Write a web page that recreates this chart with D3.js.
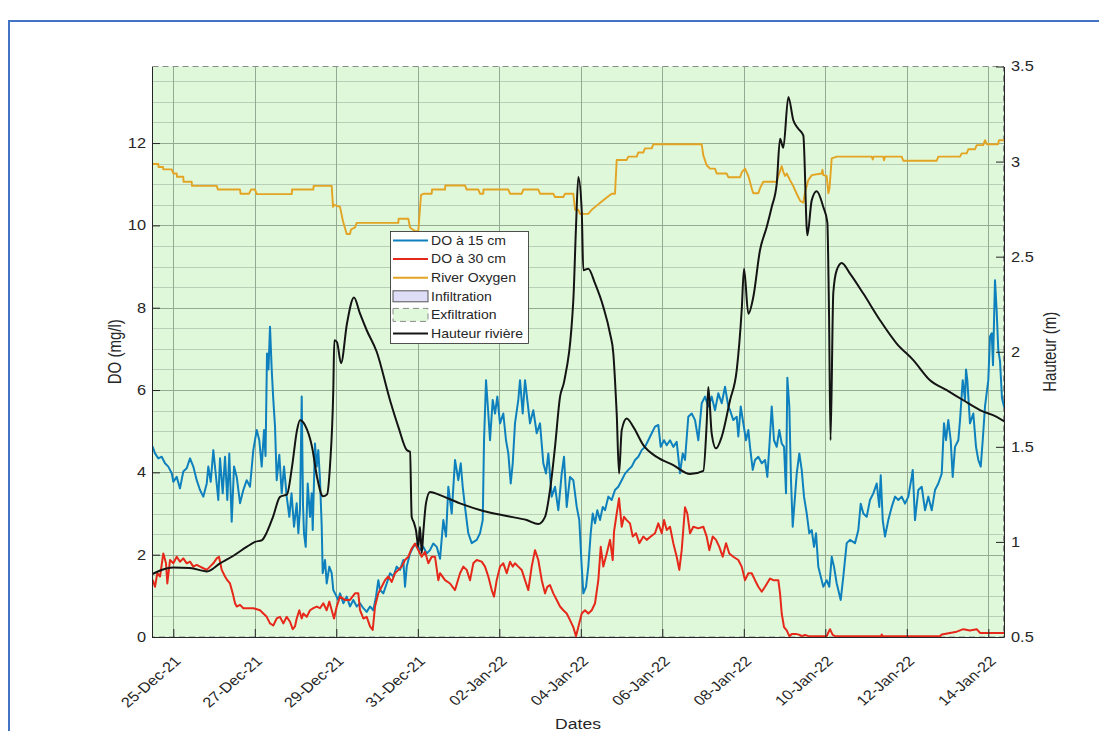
<!DOCTYPE html>
<html>
<head>
<meta charset="utf-8">
<script src="https://cdn.jsdelivr.net/npm/d3@7"></script>
<style>
  body { margin: 0; background: #ffffff; }
  svg text { font-family: "Liberation Sans", Arial, Helvetica, sans-serif; fill: #262626; }
</style>
</head>
<body>
<svg id="chart" width="1099" height="731"></svg>
<script>
// Day offsets below are counted from 24-Dec-2021 00:00 (UTC).
const baseDate = Date.UTC(2021, 11, 24);
const timeRange = [0.477, 21.385];
const tickDates = ["2021-12-25", "2021-12-27", "2021-12-29", "2021-12-31", "2022-01-02",
                   "2022-01-04", "2022-01-06", "2022-01-08", "2022-01-10", "2022-01-12", "2022-01-14"];
const doRange = [0, 13.86];
const doTicks = [0, 2, 4, 6, 8, 10, 12];
const hauteurRange = [0.5, 3.5];
const hauteurTicks = [0.5, 1, 1.5, 2, 2.5, 3, 3.5];
const legendLabels = ["DO à 15 cm", "DO à 30 cm", "River Oxygen", "Infiltration", "Exfiltration", "Hauteur rivière"];

// Dissolved oxygen at 15 cm depth [day, mg/l]
const do15 = [[0.494,4.62],[0.551,4.46],[0.632,4.34],[0.715,4.38],[0.796,4.22],[0.877,4.14],[0.961,3.98],[1.000,3.77],[1.083,3.89],[1.164,3.61],[1.245,4.02],[1.329,4.10],[1.410,4.34],[1.491,4.14],[1.574,3.81],[1.655,3.57],[1.736,3.41],[1.820,3.73],[1.859,4.14],[1.918,3.77],[1.982,4.54],[2.048,3.89],[2.104,3.33],[2.146,4.34],[2.212,3.49],[2.269,4.38],[2.325,3.33],[2.374,4.46],[2.433,2.80],[2.490,4.14],[2.556,3.89],[2.637,3.25],[2.718,3.57],[2.801,3.81],[2.882,3.65],[2.963,4.54],[3.047,5.03],[3.110,4.78],[3.169,4.14],[3.226,5.03],[3.263,4.40],[3.299,6.89],[3.336,6.50],[3.373,7.54],[3.415,6.49],[3.454,5.76],[3.496,5.11],[3.537,3.81],[3.601,4.43],[3.660,3.49],[3.717,4.14],[3.783,3.41],[3.847,2.92],[3.901,3.49],[3.962,2.68],[4.028,3.25],[4.068,2.52],[4.109,3.10],[4.151,5.84],[4.183,3.20],[4.207,2.52],[4.249,2.19],[4.298,3.73],[4.355,2.92],[4.396,3.49],[4.421,2.60],[4.477,4.70],[4.519,4.14],[4.558,4.54],[4.600,3.81],[4.642,2.68],[4.666,1.55],[4.723,1.87],[4.764,1.30],[4.828,1.71],[4.887,1.55],[4.926,1.14],[4.968,1.06],[5.049,0.90],[5.091,1.06],[5.172,0.82],[5.255,0.98],[5.336,0.74],[5.417,0.90],[5.501,0.74],[5.582,0.82],[5.663,0.70],[5.746,0.61],[5.827,0.74],[5.908,0.65],[5.974,0.98],[6.031,1.38],[6.072,1.14],[6.153,1.06],[6.237,1.30],[6.318,1.55],[6.399,1.47],[6.482,1.71],[6.563,1.63],[6.644,1.87],[6.686,1.22],[6.728,1.71],[6.809,2.03],[6.890,2.19],[6.973,2.27],[7.054,2.11],[7.135,2.19],[7.218,2.03],[7.299,2.11],[7.380,2.27],[7.464,2.19],[7.545,1.90],[7.626,2.84],[7.692,2.44],[7.749,3.65],[7.832,3.00],[7.913,4.30],[7.994,3.81],[8.053,4.22],[8.102,3.65],[8.158,3.16],[8.239,2.52],[8.323,2.28],[8.446,2.36],[8.526,2.52],[8.593,2.84],[8.625,4.78],[8.674,6.24],[8.730,5.43],[8.772,4.78],[8.838,5.76],[8.895,5.43],[8.951,5.84],[9.017,5.19],[9.098,5.43],[9.164,4.78],[9.221,4.46],[9.280,3.73],[9.329,4.22],[9.385,5.19],[9.466,5.76],[9.508,6.24],[9.574,5.43],[9.631,6.24],[9.687,5.76],[9.753,5.19],[9.834,5.51],[9.918,4.95],[9.999,5.19],[10.080,4.22],[10.146,3.97],[10.203,4.46],[10.286,3.41],[10.367,3.65],[10.448,3.08],[10.531,3.97],[10.588,4.38],[10.654,3.16],[10.735,3.89],[10.816,3.81],[10.900,3.16],[10.963,2.84],[11.022,1.71],[11.062,1.06],[11.128,1.22],[11.184,1.71],[11.243,2.52],[11.292,3.00],[11.349,2.76],[11.405,3.08],[11.471,2.84],[11.538,3.16],[11.594,3.08],[11.675,3.41],[11.758,3.33],[11.839,3.57],[11.920,3.65],[12.004,3.81],[12.085,3.97],[12.166,4.06],[12.249,4.14],[12.330,4.30],[12.411,4.38],[12.494,4.54],[12.575,4.62],[12.656,4.78],[12.740,4.95],[12.821,5.11],[12.902,5.15],[12.961,4.62],[13.042,4.78],[13.108,4.66],[13.189,4.78],[13.270,4.62],[13.353,4.74],[13.434,3.98],[13.501,4.46],[13.557,4.30],[13.638,5.35],[13.722,5.43],[13.803,5.27],[13.884,4.78],[13.967,5.68],[14.048,5.84],[14.129,5.60],[14.212,5.84],[14.293,5.51],[14.374,5.92],[14.458,5.68],[14.539,6.08],[14.620,5.60],[14.662,5.51],[14.742,5.27],[14.826,5.35],[14.865,4.87],[14.924,5.60],[14.988,5.19],[15.054,4.78],[15.111,5.03],[15.152,4.62],[15.219,4.06],[15.275,4.30],[15.356,4.38],[15.440,4.22],[15.521,4.30],[15.577,3.89],[15.626,4.62],[15.685,5.60],[15.741,4.78],[15.808,4.62],[15.871,5.03],[15.930,4.70],[15.987,4.62],[16.036,3.49],[16.068,6.30],[16.117,5.60],[16.158,3.81],[16.200,2.68],[16.256,3.41],[16.298,3.97],[16.362,4.46],[16.421,4.06],[16.477,3.41],[16.544,3.00],[16.607,2.52],[16.666,2.60],[16.723,2.19],[16.772,2.52],[16.828,1.71],[16.887,1.47],[16.951,1.22],[17.034,1.38],[17.098,1.22],[17.157,1.95],[17.213,1.71],[17.280,1.30],[17.378,0.90],[17.442,1.47],[17.525,2.28],[17.606,2.36],[17.729,2.28],[17.810,2.60],[17.869,3.24],[17.933,3.00],[18.016,2.92],[18.097,3.33],[18.178,3.49],[18.261,3.73],[18.325,3.16],[18.360,3.93],[18.409,2.84],[18.465,2.44],[18.546,2.84],[18.630,3.16],[18.711,3.41],[18.792,3.33],[18.875,3.41],[18.956,3.24],[19.037,3.41],[19.120,3.89],[19.145,4.06],[19.201,2.84],[19.282,3.57],[19.366,3.65],[19.447,3.08],[19.528,3.41],[19.611,3.08],[19.692,3.57],[19.773,3.73],[19.857,3.97],[19.913,5.19],[19.962,4.78],[20.018,5.27],[20.077,4.78],[20.126,3.89],[20.183,4.62],[20.264,4.78],[20.306,5.27],[20.372,6.24],[20.428,5.76],[20.453,6.50],[20.485,6.24],[20.550,5.19],[20.632,5.43],[20.698,4.62],[20.755,4.30],[20.814,4.14],[20.863,4.78],[20.919,5.60],[21.000,6.24],[21.042,7.30],[21.084,7.38],[21.115,6.60],[21.164,8.67],[21.206,7.90],[21.245,6.97],[21.287,6.70],[21.336,5.80],[21.385,5.60]];

// Dissolved oxygen at 30 cm depth [day, mg/l]
const do30 = [[0.494,1.38],[0.551,1.22],[0.607,1.55],[0.674,1.47],[0.755,2.03],[0.821,1.79],[0.853,1.30],[0.919,1.87],[1.000,1.79],[1.083,1.95],[1.164,1.83],[1.245,1.91],[1.329,1.79],[1.410,1.83],[1.491,1.71],[1.574,1.75],[1.655,1.71],[1.736,1.67],[1.820,1.63],[1.901,1.71],[1.982,1.79],[2.065,1.91],[2.121,1.95],[2.188,1.63],[2.269,1.47],[2.325,1.38],[2.391,1.30],[2.458,1.06],[2.514,0.82],[2.556,0.74],[2.637,0.78],[2.718,0.70],[2.801,0.70],[2.963,0.70],[3.128,0.65],[3.209,0.57],[3.292,0.49],[3.373,0.33],[3.454,0.28],[3.537,0.45],[3.618,0.49],[3.699,0.33],[3.783,0.49],[3.864,0.37],[3.930,0.19],[3.987,0.26],[4.028,0.45],[4.092,0.65],[4.151,0.45],[4.190,0.57],[4.274,0.49],[4.355,0.65],[4.436,0.70],[4.519,0.74],[4.600,0.70],[4.681,0.82],[4.764,0.65],[4.828,0.86],[4.887,0.65],[4.944,0.45],[5.010,0.74],[5.091,0.98],[5.213,0.90],[5.336,0.90],[5.459,1.06],[5.540,1.06],[5.582,0.65],[5.663,0.45],[5.746,0.49],[5.827,0.26],[5.893,0.17],[5.950,0.74],[6.031,1.06],[6.114,1.22],[6.195,1.38],[6.276,1.47],[6.360,1.34],[6.441,1.55],[6.522,1.63],[6.605,1.71],[6.686,1.87],[6.767,1.95],[6.850,2.15],[6.931,2.27],[7.012,2.11],[7.096,1.95],[7.177,2.07],[7.258,1.79],[7.341,1.95],[7.422,1.95],[7.503,1.38],[7.545,1.55],[7.668,1.38],[7.790,1.30],[7.913,1.14],[8.036,1.55],[8.117,1.71],[8.200,1.63],[8.281,1.38],[8.362,1.79],[8.446,1.87],[8.568,1.83],[8.649,1.71],[8.730,1.47],[8.814,1.14],[8.870,0.98],[8.936,1.38],[9.017,1.71],[9.098,1.79],[9.182,1.55],[9.263,1.83],[9.329,1.71],[9.385,1.79],[9.466,1.71],[9.550,1.63],[9.631,1.38],[9.712,1.14],[9.795,1.71],[9.876,2.11],[9.957,1.87],[10.041,1.38],[10.122,1.06],[10.178,1.22],[10.244,1.26],[10.325,1.06],[10.409,0.90],[10.490,0.74],[10.571,0.65],[10.654,0.57],[10.735,0.41],[10.816,0.24],[10.882,0.02],[10.939,0.24],[11.022,0.57],[11.103,0.65],[11.184,0.57],[11.268,0.65],[11.349,0.82],[11.430,1.38],[11.489,2.19],[11.552,1.71],[11.636,2.03],[11.717,2.36],[11.783,1.87],[11.815,2.56],[11.881,3.00],[11.938,3.37],[12.004,2.68],[12.060,2.92],[12.126,2.84],[12.207,2.76],[12.274,2.44],[12.355,2.52],[12.436,2.28],[12.534,2.44],[12.617,2.36],[12.716,2.44],[12.821,2.52],[12.902,2.76],[12.986,2.52],[13.042,2.84],[13.108,2.60],[13.189,2.68],[13.270,2.28],[13.353,1.95],[13.417,1.63],[13.476,2.11],[13.557,3.15],[13.614,3.00],[13.680,2.52],[13.761,2.68],[13.884,2.64],[14.006,2.68],[14.089,2.44],[14.153,2.11],[14.237,2.44],[14.318,2.36],[14.399,2.19],[14.482,1.95],[14.563,2.28],[14.644,2.03],[14.742,1.95],[14.865,1.87],[14.948,1.71],[15.030,1.38],[15.111,1.55],[15.194,1.55],[15.275,1.38],[15.356,1.22],[15.440,1.10],[15.521,1.22],[15.643,1.42],[15.724,1.38],[15.847,1.38],[15.889,1.06],[15.930,0.57],[15.987,0.24],[16.053,0.16],[16.117,0.02],[16.176,0.07],[16.298,0.07],[16.380,0.05],[16.421,0.02],[16.502,0.05],[16.583,0.02],[17.034,0.02],[17.066,0.09],[17.115,0.19],[17.181,0.05],[17.238,0.02],[18.367,0.02],[18.384,0.06],[18.404,0.02],[19.815,0.02],[19.857,0.06],[20.225,0.13],[20.387,0.19],[20.550,0.16],[20.715,0.19],[20.796,0.10],[21.385,0.10]];

// River oxygen [day, mg/l]
const riverO2 = [[0.477,11.49],[0.632,11.49],[0.637,11.42],[0.747,11.42],[0.755,11.36],[0.961,11.36],[1.000,11.26],[1.083,11.26],[1.091,11.18],[1.245,11.18],[1.250,11.06],[1.452,11.06],[1.459,10.96],[2.065,10.96],[2.097,10.87],[2.637,10.87],[2.649,10.77],[2.858,10.77],[2.907,10.87],[3.005,10.87],[3.047,10.76],[3.906,10.76],[3.913,10.87],[4.436,10.87],[4.443,10.96],[4.887,10.96],[4.919,10.45],[4.944,10.50],[5.091,10.45],[5.164,10.10],[5.255,9.79],[5.336,9.79],[5.361,9.90],[5.459,9.95],[5.501,10.06],[6.522,10.06],[6.529,10.16],[6.767,10.16],[6.809,9.95],[6.890,9.89],[6.956,9.85],[7.012,9.87],[7.079,10.74],[7.152,10.77],[7.341,10.77],[7.349,10.87],[7.668,10.87],[7.675,10.97],[8.158,10.97],[8.200,10.87],[8.485,10.87],[8.526,10.77],[8.607,10.77],[8.610,10.87],[9.221,10.87],[9.263,10.77],[9.550,10.77],[9.589,10.87],[9.957,10.87],[9.999,10.77],[10.325,10.77],[10.367,10.69],[10.571,10.69],[10.613,10.77],[10.816,10.77],[10.858,10.38],[10.939,10.38],[10.980,10.28],[11.184,10.28],[11.268,10.38],[11.390,10.48],[11.513,10.58],[11.636,10.68],[11.758,10.77],[11.839,10.77],[11.881,11.59],[12.126,11.59],[12.166,11.67],[12.372,11.67],[12.411,11.77],[12.534,11.77],[12.575,11.87],[12.740,11.87],[12.779,11.97],[13.967,11.97],[14.006,11.70],[14.089,11.46],[14.171,11.38],[14.293,11.38],[14.335,11.26],[14.580,11.26],[14.620,11.17],[14.907,11.17],[14.956,11.30],[15.030,11.38],[15.111,11.20],[15.194,10.90],[15.233,10.78],[15.356,10.78],[15.397,10.90],[15.479,11.06],[15.808,11.06],[15.847,11.20],[15.930,11.44],[15.969,11.30],[16.011,11.20],[16.053,11.26],[16.134,11.10],[16.215,10.95],[16.306,10.75],[16.380,10.60],[16.460,10.55],[16.502,10.80],[16.583,11.10],[16.666,11.22],[16.912,11.26],[16.931,11.35],[16.951,11.22],[17.034,11.20],[17.074,10.78],[17.103,10.90],[17.157,11.63],[17.280,11.67],[18.139,11.67],[18.164,11.60],[18.183,11.67],[18.424,11.67],[18.441,11.58],[18.465,11.67],[18.875,11.67],[18.914,11.57],[19.734,11.57],[19.773,11.67],[20.306,11.67],[20.347,11.75],[20.470,11.75],[20.510,11.85],[20.674,11.85],[20.715,11.95],[20.877,11.95],[20.919,12.07],[20.968,11.97],[21.238,11.97],[21.263,12.07],[21.385,12.07]];

// River stage [day, m]
const hauteur = [[0.477,0.83],[0.674,0.85],[1.000,0.866],[1.410,0.863],[1.827,0.845],[2.146,0.887],[2.465,0.926],[2.809,0.975],[3.005,1.0],[3.177,1.01],[3.299,1.053],[3.447,1.132],[3.618,1.237],[3.790,1.25],[3.913,1.395],[4.036,1.588],[4.109,1.64],[4.232,1.614],[4.404,1.5],[4.526,1.342],[4.674,1.24],[4.772,1.25],[4.845,1.40],[4.926,1.80],[4.951,2.06],[5.017,2.05],[5.115,1.94],[5.263,2.15],[5.434,2.285],[5.582,2.2],[5.746,2.113],[5.991,2.0],[6.318,1.745],[6.522,1.605],[6.728,1.483],[6.809,1.474],[6.850,1.132],[6.907,1.10],[6.956,1.06],[7.012,0.975],[7.054,1.08],[7.096,0.94],[7.135,1.05],[7.201,1.204],[7.299,1.263],[7.545,1.246],[8.036,1.203],[8.607,1.163],[9.182,1.136],[9.672,1.115],[9.957,1.094],[10.122,1.132],[10.244,1.272],[10.367,1.5],[10.490,1.763],[10.588,1.84],[10.816,2.27],[10.882,2.656],[10.939,2.919],[11.022,2.744],[11.062,2.429],[11.184,2.437],[11.349,2.359],[11.552,2.236],[11.717,2.096],[11.798,1.991],[11.839,1.85],[11.881,1.675],[11.938,1.36],[12.004,1.588],[12.126,1.649],[12.288,1.605],[12.534,1.509],[12.863,1.447],[13.270,1.404],[13.680,1.357],[14.006,1.374],[14.089,1.623],[14.129,1.815],[14.212,1.57],[14.318,1.492],[14.458,1.553],[14.662,1.745],[14.826,1.903],[14.948,2.218],[15.005,2.437],[15.111,2.2],[15.233,2.288],[15.397,2.534],[15.562,2.656],[15.685,2.761],[15.808,2.884],[15.889,3.12],[15.969,3.073],[16.093,3.339],[16.215,3.217],[16.337,3.173],[16.460,3.138],[16.559,2.612],[16.666,2.796],[16.789,2.844],[16.951,2.761],[17.049,2.682],[17.091,2.2],[17.128,1.535],[17.196,2.31],[17.280,2.429],[17.403,2.467],[17.606,2.411],[17.933,2.306],[18.342,2.166],[18.752,2.043],[19.159,1.956],[19.569,1.85],[19.979,1.798],[20.387,1.745],[20.796,1.693],[21.206,1.658],[21.385,1.635]];

// ---- layout and styles ----
const plot = { left: 152, right: 1004, top: 66.5, bottom: 637 };
const colors = { do15: "#0e80bd", do30: "#e6281a", river: "#e2a422", hauteur: "#141414",
                 exfil: "#e0f8da", infil: "#dedcf6", ink: "#262626",
                 gridMajor: "#94aa93", gridMinor: "#b9cdb7" };
const stretch = 1.17;   // text is set slightly wide

const toDate = d => new Date(baseDate + d * 864e5);
const parseDay = d3.utcParse("%Y-%m-%d");

const x = d3.scaleUtc().domain(timeRange.map(toDate)).range([plot.left, plot.right]);
const yL = d3.scaleLinear().domain(doRange).range([plot.bottom, plot.top]);
const yR = d3.scaleLinear().domain(hauteurRange).range([plot.bottom, plot.top]);

const svg = d3.select("#chart");

// page frame
svg.append("rect").attr("x", 9).attr("y", 21).attr("width", 1200).attr("height", 900)
  .attr("fill", "none").attr("stroke", "#4472c4").attr("stroke-width", 2);

// exfiltration band (covers the whole record)
const x0 = x(toDate(timeRange[0])), x1 = x(toDate(timeRange[1]));
svg.append("rect").attr("x", x0).attr("y", yR(hauteurRange[1]))
  .attr("width", x1 - x0).attr("height", yR(hauteurRange[0]) - yR(hauteurRange[1]))
  .attr("fill", colors.exfil);

// grid
const grid = svg.append("g");
const minorVals = d3.range(0.5, doRange[1], 0.5).filter(v => v % 2 !== 0);
grid.selectAll("line.hmin").data(minorVals).join("line")
  .attr("x1", plot.left).attr("x2", plot.right)
  .attr("y1", d => Math.round(yL(d)) + 0.5).attr("y2", d => Math.round(yL(d)) + 0.5)
  .attr("stroke", colors.gridMinor).attr("stroke-width", 1);
grid.selectAll("line.hmaj").data(doTicks.filter(v => v > 0)).join("line")
  .attr("x1", plot.left).attr("x2", plot.right)
  .attr("y1", d => Math.round(yL(d)) + 0.5).attr("y2", d => Math.round(yL(d)) + 0.5)
  .attr("stroke", colors.gridMajor).attr("stroke-width", 1);
grid.selectAll("line.v").data(tickDates.map(parseDay)).join("line")
  .attr("x1", d => Math.round(x(d)) + 0.5).attr("x2", d => Math.round(x(d)) + 0.5)
  .attr("y1", plot.top).attr("y2", plot.bottom)
  .attr("stroke", colors.gridMajor).attr("stroke-width", 1);

// dashed outline of the exfiltration band
svg.append("rect").attr("x", x0 + 0.5).attr("y", yR(hauteurRange[1]))
  .attr("width", x1 - x0 - 1).attr("height", yR(hauteurRange[0]) - yR(hauteurRange[1]))
  .attr("fill", "none").attr("stroke", "#8a8a8a").attr("stroke-width", 1)
  .attr("stroke-dasharray", "6,4");

// series
svg.append("clipPath").attr("id", "plotClip").append("rect")
  .attr("x", plot.left).attr("y", plot.top - 2)
  .attr("width", plot.right - plot.left).attr("height", plot.bottom - plot.top + 4);
const series = svg.append("g").attr("clip-path", "url(#plotClip)");
const lineL = d3.line().x(d => x(toDate(d[0]))).y(d => yL(d[1]));
const lineR = d3.line().curve(d3.curveMonotoneX).x(d => x(toDate(d[0]))).y(d => yR(d[1]));
const draw = (data, gen, color, w) => series.append("path").datum(data).attr("d", gen)
  .attr("fill", "none").attr("stroke", color).attr("stroke-width", w)
  .attr("stroke-linejoin", "round").attr("stroke-linecap", "round");
draw(do15, lineL, colors.do15, 2);
draw(do30, lineL, colors.do30, 2);
draw(riverO2, lineL, colors.river, 1.9);
draw(hauteur, lineR, colors.hauteur, 2);

// axes
const fmtDate = d3.utcFormat("%d-%b-%y");
const xAxis = svg.append("g").attr("transform", `translate(0,${plot.bottom})`)
  .call(d3.axisBottom(x).tickValues(tickDates.map(parseDay)).tickFormat(fmtDate)
    .tickSize(-8).tickSizeOuter(0));
xAxis.selectAll("text").attr("x", 0).attr("y", 0).attr("dy", 0)
  .style("text-anchor", "end").style("font-size", "14px")
  .attr("transform", `translate(8,25) scale(${stretch},1) rotate(-45)`);

const leftAxis = svg.append("g").attr("transform", `translate(${plot.left},0)`)
  .call(d3.axisLeft(yL).tickValues(doTicks).tickFormat(d3.format("~g"))
    .tickSize(-8).tickSizeOuter(0).tickPadding(6));
leftAxis.selectAll("text").style("font-size", "14px")
  .attr("x", -6 / stretch).attr("transform", `scale(${stretch},1)`);

const rightAxis = svg.append("g").attr("transform", `translate(${plot.right},0)`)
  .call(d3.axisRight(yR).tickValues(hauteurTicks).tickFormat(d3.format("~g"))
    .tickSize(-8).tickSizeOuter(0).tickPadding(7));
rightAxis.selectAll("text").style("font-size", "14px")
  .attr("x", 7 / stretch).attr("transform", `scale(${stretch},1)`);

[xAxis, leftAxis, rightAxis].forEach(a => {
  a.selectAll("path.domain").attr("stroke", colors.ink).attr("stroke-width", 1);
  a.selectAll(".tick line").attr("stroke", colors.ink).attr("stroke-width", 1);
  a.selectAll("text").style("fill", colors.ink).attr("fill", colors.ink);
});

// axis titles
const midY = (plot.top + plot.bottom) / 2;
svg.append("text").attr("transform", `translate(121,${midY}) scale(${stretch},1) rotate(-90)`)
  .attr("text-anchor", "middle").style("font-size", "15px").text("DO (mg/l)");
svg.append("text").attr("transform", `translate(1056,${midY}) scale(${stretch},1) rotate(-90)`)
  .attr("text-anchor", "middle").style("font-size", "15px").text("Hauteur (m)");
svg.append("text").attr("transform", `translate(${(plot.left + plot.right) / 2},729) scale(${stretch},1)`)
  .attr("text-anchor", "middle").style("font-size", "15px").text("Dates");

// legend
const lg = svg.append("g").attr("transform", "translate(390,231)");
lg.append("rect").attr("x", 0.5).attr("y", 0.5).attr("width", 138).attr("height", 112)
  .attr("fill", "#ffffff").attr("stroke", colors.ink).attr("stroke-width", 0.8);
const rowY = i => 9.5 + i * 18.6;
const sw = [3, 38];
const lineItems = [[0, colors.do15], [1, colors.do30], [2, colors.river], [5, colors.hauteur]];
lineItems.forEach(([i, c]) => {
  lg.append("line").attr("x1", sw[0]).attr("x2", sw[1]).attr("y1", rowY(i)).attr("y2", rowY(i))
    .attr("stroke", c).attr("stroke-width", 2);
});
lg.append("rect").attr("x", sw[0]).attr("y", rowY(3) - 5.5).attr("width", sw[1] - sw[0]).attr("height", 11)
  .attr("fill", colors.infil).attr("stroke", "#555555").attr("stroke-width", 1);
lg.append("rect").attr("x", sw[0]).attr("y", rowY(4) - 6.5).attr("width", sw[1] - sw[0]).attr("height", 13)
  .attr("fill", colors.exfil).attr("stroke", "#8a8a8a").attr("stroke-width", 1)
  .attr("stroke-dasharray", "6,4");
legendLabels.forEach((t, i) => {
  lg.append("text").attr("transform", `translate(41,${rowY(i) + 4.3}) scale(${stretch},1)`)
    .style("font-size", "12px").text(t);
});
</script>
</body>
</html>
